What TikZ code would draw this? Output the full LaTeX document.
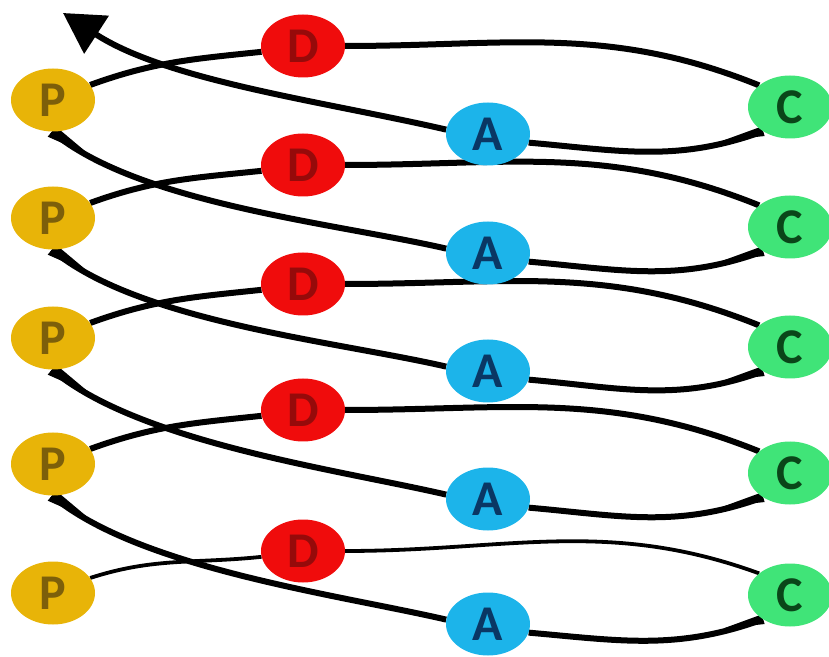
\documentclass[tikz,border=0pt]{standalone}
\usepackage{fontspec}
\setmainfont{Carlito}
\usetikzlibrary{arrows.meta,shapes.geometric,backgrounds,calc}
\definecolor{pfill}{RGB}{232,180,8}
\definecolor{ptext}{RGB}{125,95,10}
\definecolor{dfill}{RGB}{240,12,12}
\definecolor{dtext}{RGB}{150,10,10}
\definecolor{cfill}{RGB}{64,228,120}
\definecolor{ctext}{RGB}{10,70,25}
\definecolor{afill}{RGB}{28,180,234}
\definecolor{atext}{RGB}{10,55,100}
\tikzset{
  stage/.style={ellipse, minimum width=84pt, minimum height=63pt, inner sep=0pt,
    font=\fontsize{50}{50}\selectfont\bfseries},
  pnode/.style={stage, fill=pfill, text=ptext},
  dnode/.style={stage, fill=dfill, text=dtext},
  cnode/.style={stage, fill=cfill, text=ctext},
  anode/.style={stage, fill=afill, text=atext},
  link/.style={line width=6pt, black},
  thinlink/.style={line width=3.8pt, black},
}
\begin{document}
\begin{tikzpicture}[x=1pt,y=1pt]
\useasboundingbox (0,0) rectangle (829,656);
% nodes
\node[pnode] (P1) at (53,556) {P};
\node[pnode] (P2) at (53,438) {P};
\node[pnode] (P3) at (53,318) {P};
\node[pnode] (P4) at (53,192) {P};
\node[pnode] (P5) at (53,63) {P};
\node[dnode] (D1) at (303,610) {D};
\node[dnode] (D2) at (303,491) {D};
\node[dnode] (D3) at (303,372) {D};
\node[dnode] (D4) at (303,246) {D};
\node[dnode] (D5) at (303,105) {D};
\node[cnode] (C1) at (790,549) {C};
\node[cnode] (C2) at (790,429) {C};
\node[cnode] (C3) at (790,309) {C};
\node[cnode] (C4) at (790,183) {C};
\node[cnode] (C5) at (790,61) {C};
\node[anode] (A1) at (488,522) {A};
\node[anode] (A2) at (488,403) {A};
\node[anode] (A3) at (488,285) {A};
\node[anode] (A4) at (488,157) {A};
\node[anode] (A5) at (488,32) {A};
\coordinate (E) at (63,643);
% connectors behind the nodes
\begin{scope}[on background layer]
\foreach \k in {1,2,3,4} {
  \draw[link] (P\k.22) to[out=20,in=186] (D\k.188);
  \draw[link] (D\k.east) to[out=0,in=158] (C\k.145);
  \draw[link] (C\k.222) to[out=200,in=-5] (A\k.-12);
  \fill (C\k.222) ++(110:5) -- ++(200:40) -- ($(C\k.222)+(-70:5)$) -- cycle;
}
\draw[thinlink] (P5.22) to[out=18,in=186] (D5.188);
\draw[thinlink] (D5.east) to[out=0,in=160] (C5.145);
\draw[link] (C5.222) to[out=200,in=-5] (A5.-12);
\fill (C5.222) ++(110:5) -- ++(200:40) -- ($(C5.222)+(-70:5)$) -- cycle;
\foreach \k/\j in {2/1,3/2,4/3,5/4} {
  \draw[link] (A\k.174) to[out=167,in=-40,looseness=0.7] (P\j.268);
  \fill (P\j.268) ++(50:6.5) -- ++(-40:45) -- ($(P\j.268)+(-130:6.5)$) -- cycle;
}
\draw[link,-{Triangle[length=40pt,width=44pt]}] (A1.174) to[out=167,in=-33,looseness=0.8] (E);
\end{scope}
\end{tikzpicture}
\end{document}
